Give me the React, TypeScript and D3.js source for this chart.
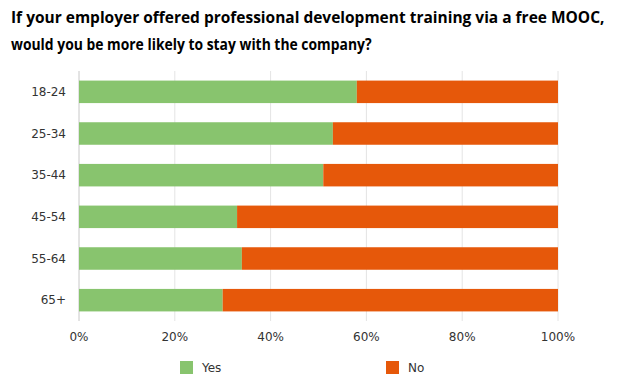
import { useEffect, useRef } from "react";
import * as d3 from "d3";

const categories = ["18-24", "25-34", "35-44", "45-54", "55-64", "65+"];
const yesValues = [58, 53, 51, 33, 34, 30];
const noValues = [42, 47, 49, 67, 66, 70];
const xTicks = [0, 20, 40, 60, 80, 100];
const seriesNames = ["Yes", "No"];
const seriesColors = ["#88c46e", "#e6580a"];

const titleLines = [
  "If your employer offered professional development training via a free MOOC,",
  "would you be more likely to stay with the company?",
];
const titleWidths = [594, 361];

export default function App() {
  const svgRef = useRef<SVGSVGElement | null>(null);
  const width = 617;
  const height = 387;

  useEffect(() => {
    if (!svgRef.current) return;
    const svg = d3.select(svgRef.current);
    svg.selectAll("*").remove();

    const margin = { top: 71, left: 79, right: 59, bottom: 66 };
    const innerW = width - margin.left - margin.right;
    const innerH = height - margin.top - margin.bottom;

    // title: the original uses a narrow font, so squeeze each line horizontally
    svg
      .append("g")
      .selectAll("text")
      .data(titleLines)
      .join("text")
      .attr("x", 0)
      .attr("y", 0)
      .attr("font-family", "'Open Sans', sans-serif")
      .attr("font-weight", 700)
      .attr("font-size", 16)
      .attr("fill", "#000")
      .text((d) => d)
      .each(function (_, i) {
        const w = (this as SVGTextElement).getComputedTextLength();
        const sx = w > 0 ? titleWidths[i] / w : 0.87;
        d3.select(this).attr(
          "transform",
          `translate(11,${23 + i * 27}) scale(${sx},1)`
        );
      });

    const g = svg
      .append("g")
      .attr("transform", `translate(${margin.left},${margin.top})`);

    const x = d3.scaleLinear().domain([0, 100]).range([0, innerW]);
    const y = d3
      .scaleBand<string>()
      .domain(categories)
      .range([0, innerH])
      .paddingInner(0.46)
      .paddingOuter(0.23);

    // gridlines
    g.selectAll("line.grid")
      .data(xTicks)
      .join("line")
      .attr("class", "grid")
      .attr("x1", (d) => x(d))
      .attr("x2", (d) => x(d))
      .attr("y1", 0)
      .attr("y2", innerH)
      .attr("stroke", (d) => (d === 0 ? "#c8c8c8" : "#e4e4e4"))
      .attr("stroke-width", 1);

    // tick labels
    g.selectAll("text.xtick")
      .data(xTicks)
      .join("text")
      .attr("class", "xtick")
      .attr("x", (d) => x(d))
      .attr("y", innerH + 20)
      .attr("text-anchor", "middle")
      .attr("font-family", "'DejaVu Sans', Verdana, sans-serif")
      .attr("font-size", 12)
      .attr("fill", "#333")
      .text((d) => `${d}%`);

    g.selectAll("text.ytick")
      .data(categories)
      .join("text")
      .attr("class", "ytick")
      .attr("x", -13)
      .attr("y", (d) => y(d)! + y.bandwidth() / 2)
      .attr("dy", "0.35em")
      .attr("text-anchor", "end")
      .attr("font-family", "'DejaVu Sans', Verdana, sans-serif")
      .attr("font-size", 12)
      .attr("fill", "#333")
      .text((d) => d);

    const rows = categories.map((c, i) => ({
      c,
      yes: yesValues[i],
      no: noValues[i],
    }));

    // yes bars
    g.selectAll("rect.yes")
      .data(rows)
      .join("rect")
      .attr("class", "yes")
      .attr("x", x(0))
      .attr("y", (d) => y(d.c)!)
      .attr("width", (d) => x(d.yes) - x(0))
      .attr("height", y.bandwidth())
      .attr("fill", seriesColors[0]);

    // no bars
    g.selectAll("rect.no")
      .data(rows)
      .join("rect")
      .attr("class", "no")
      .attr("x", (d) => x(d.yes))
      .attr("y", (d) => y(d.c)!)
      .attr("width", (d) => x(d.yes + d.no) - x(d.yes))
      .attr("height", y.bandwidth())
      .attr("fill", seriesColors[1]);

    // legend
    const legendX = [180, 386];
    const leg = svg
      .append("g")
      .selectAll("g")
      .data(seriesNames)
      .join("g")
      .attr("transform", (_, i) => `translate(${legendX[i]},361)`);
    leg
      .append("rect")
      .attr("width", 13)
      .attr("height", 13)
      .attr("fill", (_, i) => seriesColors[i]);
    leg
      .append("text")
      .attr("x", 22)
      .attr("y", 7)
      .attr("dy", "0.35em")
      .attr("font-family", "'DejaVu Sans', Verdana, sans-serif")
      .attr("font-size", 12)
      .attr("fill", "#333")
      .text((d) => d);
  }, []);

  return (
    <svg
      ref={svgRef}
      width={width}
      height={height}
      style={{ position: "absolute", left: 0, top: 0, background: "#fff" }}
    />
  );
}
